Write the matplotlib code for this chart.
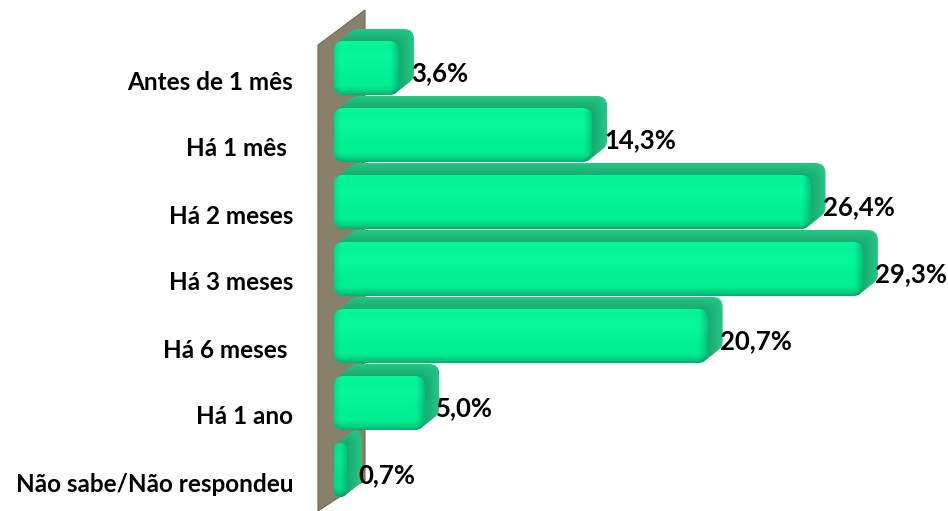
import numpy as np
import matplotlib
matplotlib.use("Agg")
import matplotlib.pyplot as plt
from matplotlib.patches import FancyBboxPatch, Polygon

# ---- data ------------------------------------------------------------
categories = ["Antes de 1 mês", "Há 1 mês ", "Há 2 meses", "Há 3 meses",
              "Há 6 meses ", "Há 1 ano", "Não sabe/Não respondeu"]
values = [3.6, 14.3, 26.4, 29.3, 20.7, 5.0, 0.7]
value_labels = ["3,6%", "14,3%", "26,4%", "29,3%", "20,7%", "5,0%", "0,7%"]

# ---- layout (pixels) -------------------------------------------------
W, H = 948, 511
PX_X = 18.05        # pixels per percent
PX_Y = 67.0         # pixels per category row
X0, Y0 = 334, 68    # pixel position of zero / centre of first row

def px(dx=0, dy=0):
    return dx / PX_X, dy / PX_Y

DEPTH_X, DEPTH_Y = px(15, -12)
BAR_H = 54 / PX_Y
RAD_PX = 10
ASPECT = PX_X / PX_Y

FRONT = np.array([0.0, 0.94, 0.58])
SIDE_NEAR = np.array([0.09, 0.66, 0.43])
SIDE_FAR = np.array([0.14, 0.78, 0.52])

plt.rcParams["font.family"] = ["Lato", "DejaVu Sans"]

fig = plt.figure(figsize=(W / 100, H / 100), dpi=100)
ax = fig.add_axes([0, 0, 1, 1])
ax.axis("off")

# back wall
wall_px = [(318, 45), (365, 10), (365, 480), (318, 511)]
wall = [((x - X0) / PX_X, (y - Y0) / PX_Y) for x, y in wall_px]
ax.add_patch(Polygon(wall, closed=True, fc="#888069", ec="#6f6854", lw=0.8, zorder=1))


def rbox(x, y, w, h, color, z):
    r = min(RAD_PX / PX_X, w / 2)
    p = FancyBboxPatch((x, y), w, h,
                       boxstyle=f"round,pad=0,rounding_size={r}",
                       mutation_aspect=ASPECT, fc=color, ec="none", zorder=z)
    ax.add_patch(p)
    return p


def bevel(wpx, hpx):
    wpx, hpx = max(int(wpx), 2), max(int(hpx), 2)
    xx = np.arange(wpx)[None, :]
    yy = np.arange(hpx)[:, None]
    band = 10.0
    bot = np.clip(1 - (hpx - 1 - yy) / band, 0, 1) ** 1.5
    right = np.clip(1 - (wpx - 1 - xx) / band, 0, 1) ** 1.5
    left = np.clip(1 - xx / 7.0, 0, 1) ** 1.5
    top = np.clip(1 - yy / 6.0, 0, 1) ** 1.5
    shade = 1 - 0.25 * bot - 0.22 * right - 0.12 * left + 0.04 * top
    img = FRONT[None, None, :] * shade[:, :, None]
    hl = np.exp(-((yy - hpx * 0.3) / (hpx * 0.22)) ** 2) * 0.03
    img = img + hl[:, :, None] * np.array([1.0, 1.0, 1.0])
    return np.clip(img, 0, 1)


for i, (v, lab) in enumerate(zip(values, value_labels)):
    y_top = i - BAR_H / 2
    # extruded depth, back to front
    n = 14
    for k in range(n, 0, -1):
        t = k / n
        c = SIDE_NEAR + (SIDE_FAR - SIDE_NEAR) * t
        rbox(t * DEPTH_X, y_top + t * DEPTH_Y, v, BAR_H, c, 2 + i * 0.01)
    front = rbox(0, y_top, v, BAR_H, FRONT, 3)
    img = bevel(v * PX_X, BAR_H * PX_Y)
    im = ax.imshow(img, extent=(0, v, y_top + BAR_H, y_top), origin="upper",
                   aspect="auto", interpolation="bilinear", zorder=4)
    im.set_clip_path(front)

    ax.text(v + DEPTH_X - 3 / PX_X, i + 5 / PX_Y, lab, ha="left", va="center",
            fontsize=18.5, fontweight="bold", color="black", zorder=5)
    ax.text((293 - X0) / PX_X, i + 14 / PX_Y, categories[i], ha="right", va="center",
            fontsize=17.5, fontweight="bold", color="black", zorder=5)

ax.set_xlim(-X0 / PX_X, (W - X0) / PX_X)
ax.set_ylim((H - Y0) / PX_Y, -Y0 / PX_Y)

fig.savefig("out.png", dpi=100, facecolor="white")
